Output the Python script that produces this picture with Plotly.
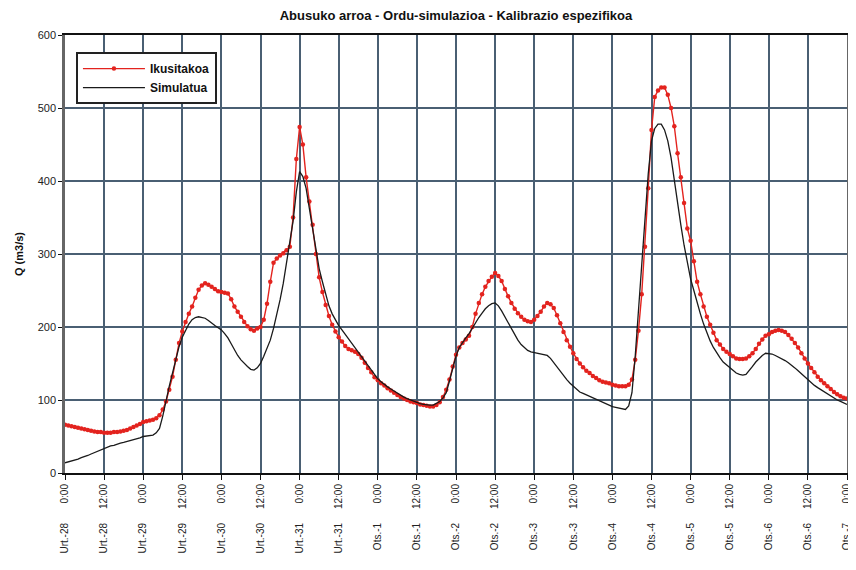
import plotly.graph_objects as go

# Hours since Urt.-28 0:00 (hourly samples)
hours = list(range(0, 241))

# Observed discharge (Ikusitakoa), m3/s, hourly
observed = [
    # Urt.-28
    66, 65, 64, 63, 62, 61, 60, 59, 58, 57, 56, 56, 55, 55, 55, 56, 56, 57, 58, 59, 61, 63, 65, 67,
    # Urt.-29
    70, 71, 72, 73, 75, 79, 87, 98, 114, 132, 155, 178, 194, 207, 218, 228, 240, 251, 257, 260, 258, 255, 252, 249,
    # Urt.-30
    248, 247, 246, 238, 228, 221, 214, 207, 201, 197, 195, 198, 200, 210, 232, 262, 288, 294, 298, 301, 305, 310, 350, 430,
    # Urt.-31
    474, 450, 405, 372, 340, 300, 268, 248, 230, 215, 203, 194, 186, 180, 174, 170, 168, 166, 163, 158, 151, 144, 138, 131,
    # Ots.-1
    127, 123, 120, 116, 113, 110, 107, 104, 102, 100, 98, 97, 96, 94, 93, 92, 91, 91, 93, 97, 104, 114, 128, 146,
    # Ots.-2
    162, 172, 178, 183, 188, 200, 218, 233, 245, 255, 263, 269, 274, 270, 263, 252, 242, 233, 225, 219, 214, 210, 208, 207,
    # Ots.-3
    210, 215, 221, 228, 233, 231, 226, 216, 205, 193, 182, 173, 164, 156, 150, 145, 140, 137, 133, 130, 127, 125, 124, 123,
    # Ots.-4
    121, 120, 119, 119, 119, 121, 128, 155, 195, 245, 310, 390, 470, 515, 524, 528, 528, 518, 500, 475, 438, 405, 370, 335,
    # Ots.-5
    318, 290, 262, 245, 228, 214, 203, 192, 182, 176, 170, 166, 163, 160, 157, 156, 156, 157, 160, 164, 170, 177, 183, 188,
    # Ots.-6 .. Ots.-7 0:00
    190, 193, 195, 196, 195, 193, 189, 184, 178, 172, 164, 157, 150, 144, 138, 132, 127, 123, 119, 115, 111, 108, 105, 103,
    102,
]

# Simulated discharge (Simulatua), m3/s, hourly
simulated = [
    # Urt.-28
    14, 15, 17, 18, 19, 21, 22, 24, 26, 28, 30, 32, 34, 35, 37, 38, 40, 41, 42, 43, 45, 46, 47, 48,
    # Urt.-29
    50, 51, 51, 52, 55, 61, 78, 100, 119, 137, 155, 173, 186, 196, 204, 210, 213, 214, 213, 212, 209, 205, 202, 199,
    # Urt.-30
    196, 191, 185, 177, 168, 161, 155, 150, 146, 142, 141, 144, 150, 160, 170, 182, 198, 216, 237, 260, 287, 315, 345, 385,
    # Urt.-31
    413, 406, 390, 362, 335, 305, 280, 262, 244, 229, 218, 209, 202, 196, 190, 184, 178, 171, 165, 159, 154, 148, 142, 135,
    # Ots.-1
    129, 125, 121, 118, 115, 112, 109, 106, 104, 102, 100, 98, 96, 95, 94, 93, 93, 93, 95, 98, 103, 110, 126, 145,
    # Ots.-2
    160, 172, 179, 185, 191, 199, 207, 213, 219, 225, 229, 232, 233, 229, 222, 214, 205, 197, 189, 182, 176, 172, 168, 166,
    # Ots.-3
    165, 164, 164, 163, 161, 157, 151, 146, 140, 134, 128, 123, 119, 115, 111, 109, 107, 105, 102, 100, 98, 96, 95, 93,
    # Ots.-4
    91, 90, 89, 88, 87, 92, 110, 160, 220, 285, 350, 410, 455, 472, 478, 478, 470, 455, 432, 400, 368, 340, 312, 288,
    # Ots.-5
    266, 250, 232, 218, 204, 191, 181, 172, 164, 158, 152, 148, 144, 140, 137, 135, 134, 135, 140, 146, 152, 157, 161, 164,
    # Ots.-6 .. Ots.-7 0:00
    164, 163, 161, 159, 157, 154, 151, 148, 144, 140, 136, 131, 127, 123, 120, 117, 114, 111, 108, 105, 103, 100, 98, 96,
    94,
]

# Tick labels every 12 hours
tick_hours = list(range(0, 241, 12))
day_labels = ["Urt.-28", "Urt.-29", "Urt.-30", "Urt.-31", "Ots.-1", "Ots.-2",
              "Ots.-3", "Ots.-4", "Ots.-5", "Ots.-6", "Ots.-7"]
time_labels = ["0:00", "12:00"]

NB = "\u00a0"
tick_text = []
for i, h in enumerate(tick_hours):
    d = day_labels[i // 2]
    t = time_labels[i % 2]
    pad = NB * (7 if t == "0:00" else 5)
    tick_text.append(d + pad + t)

FONT = "Arial, 'Liberation Sans', sans-serif"
GRID = "#4a5f73"

fig = go.Figure()
fig.add_trace(go.Scatter(
    x=hours, y=observed, name="Ikusitakoa", mode="lines+markers",
    line=dict(color="#e3231e", width=1.4),
    marker=dict(color="#e3231e", size=4.5, symbol="circle"),
))
fig.add_trace(go.Scatter(
    x=hours, y=simulated, name="Simulatua", mode="lines",
    line=dict(color="#1a1a1a", width=1.3),
))

# The page body adds an 8px margin; the figure is sized so the plot area
# lands where the reference has it.
fig.update_layout(
    width=848, height=562,
    margin=dict(l=57, r=9, t=27, b=97, autoexpand=False),
    paper_bgcolor="white", plot_bgcolor="white",
    font=dict(family=FONT, color="#111", size=11),
    title=dict(text="<b>Abusuko arroa - Ordu-simulazioa - Kalibrazio espezifikoa</b>",
               x=0.5, xref="paper", xanchor="center",
               y=1 - 7 / 562, yref="container", yanchor="middle",
               font=dict(size=13, family=FONT, color="#111")),
    showlegend=True,
    legend=dict(x=0.014, y=0.961, xanchor="left", yanchor="top",
                bgcolor="white", bordercolor="#222", borderwidth=2,
                font=dict(size=12, family=FONT, color="#111", weight="bold"),
                itemwidth=62, tracegroupgap=2),
)

fig.update_xaxes(
    range=[0, 240], tickmode="array", tickvals=tick_hours, ticktext=tick_text,
    tickangle=-90, tickfont=dict(size=10, family=FONT, color="#222"),
    showgrid=True, gridcolor=GRID, gridwidth=1.5,
    showline=True, linecolor="#111", linewidth=2, mirror=True,
    ticks="outside", ticklen=5, tickcolor="#111", zeroline=False,
    automargin=False,
)
fig.update_yaxes(
    range=[0, 600], tickmode="array", tickvals=[0, 100, 200, 300, 400, 500, 600],
    tickfont=dict(size=11, family=FONT, color="#222"),
    title=dict(text="<b>Q (m3/s)</b>", font=dict(size=11, family=FONT, color="#111"), standoff=12),
    showgrid=True, gridcolor=GRID, gridwidth=1.5,
    showline=True, linecolor="#666", linewidth=2.5, mirror=True,
    ticks="outside", ticklen=4, tickcolor="#111", zeroline=False,
    automargin=False,
)

fig.write_html("out.html")
